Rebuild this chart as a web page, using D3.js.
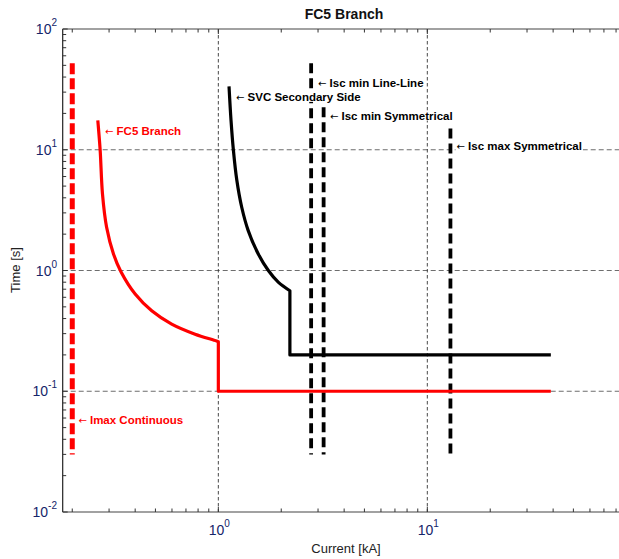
<!DOCTYPE html>
<html><head><meta charset="utf-8">
<script src="https://cdn.jsdelivr.net/npm/d3@7"></script>
<style>body{margin:0;background:#fff}svg{display:block}</style>
</head><body><div id="chart"></div>
<script>
const title = "FC5 Branch";
const xLabel = "Current [kA]";
const yLabel = "Time [s]";
const xTickExps = [0, 1];
const yTickExps = [-2, -1, 0, 1, 2];
const xGrid = [1, 10];
const yGrid = [0.1, 1, 10];

// FC5 Branch protection curve (current kA, time s): inverse-time part, then definite-time step
const fc5CurveX = [0.265, 0.272, 0.279, 0.292, 0.315, 0.342, 0.400, 0.480, 0.598, 0.774, 0.98, 1.0];
const fc5CurveT = [17.5, 9.9, 4.31, 2.28, 1.37, 0.977, 0.638, 0.464, 0.360, 0.297, 0.261, 0.257];
const fc5StepX = [1.0, 1.0, 39];
const fc5StepT = [0.257, 0.1, 0.1];
// SVC secondary side curve
const svcCurveX = [1.125, 1.15, 1.18, 1.225, 1.294, 1.39, 1.553, 1.735, 1.94, 2.20];
const svcCurveT = [33.5, 17.5, 10, 5.64, 3.34, 2.14, 1.37, 1.0, 0.797, 0.68];
const svcStepX = [2.20, 2.20, 39];
const svcStepT = [0.68, 0.2, 0.2];
// Vertical current markers
const markerNames = ["Imax Continuous", "Isc min Line-Line", "Isc min Symmetrical", "Isc max Symmetrical"];
const markerX = [0.2, 2.78, 3.19, 12.9];
const markerTop = [52, 52, 22.5, 15];
const markerBottom = [0.03, 0.03, 0.03, 0.03];
const markerColor = ["#ff0000", "#000", "#000", "#000"];
// Annotation labels
const labelText = ["FC5 Branch", "SVC Secondary Side", "Isc min Line-Line", "Isc min Symmetrical", "Isc max Symmetrical", "Imax Continuous"];
const labelX = [0.287, 1.215, 3.0, 3.42, 13.8, 0.214];
const labelT = [14.2, 27.4, 35.9, 19.2, 10.65, 0.0574];
const labelColor = ["#ff0000", "#000", "#000", "#000", "#000", "#ff0000"];

const W = 619, H = 559;
const svg = d3.select("#chart").append("svg").attr("width", W).attr("height", H);
const x = d3.scaleLog().domain([0.18, 100]).range([62.7, 636.3]);
const y = d3.scaleLog().domain([0.01, 100]).range([512, 29]);
const L = 62.7, R = 636.3, T = 29, B = 512;
const font = "Liberation Sans, Arial, sans-serif";
const tickCol = "#15256a";

// grid
svg.append("g").selectAll("line").data(yGrid).join("line")
  .attr("x1", L).attr("x2", R).attr("y1", d => y(d)).attr("y2", d => y(d))
  .attr("stroke", "#6e6e6e").attr("stroke-width", 1.2).attr("stroke-dasharray", "5,3");
svg.append("g").selectAll("line").data(xGrid).join("line")
  .attr("y1", T).attr("y2", B).attr("x1", d => x(d)).attr("x2", d => x(d))
  .attr("stroke", "#333").attr("stroke-width", 0.9).attr("stroke-dasharray", "3.5,2.5");

// axes box lines
const axisG = svg.append("g").attr("stroke", "#444").attr("stroke-width", 1.2);
axisG.append("line").attr("x1", L).attr("x2", L).attr("y1", T).attr("y2", B).attr("stroke", "#222");
axisG.append("line").attr("x1", L).attr("x2", R).attr("y1", T).attr("y2", T);
axisG.append("line").attr("x1", L).attr("x2", R).attr("y1", B).attr("y2", B);

// minor + major ticks
function logTicks(lo, hi) {
  const out = [];
  for (let e = Math.floor(Math.log10(lo)); e <= Math.ceil(Math.log10(hi)); e++) {
    for (let m = 1; m <= 9; m++) {
      const v = m * Math.pow(10, e);
      if (v >= lo * 0.999 && v <= hi * 1.001) out.push({v, major: m === 1});
    }
  }
  return out;
}
const xt = logTicks(0.18, 100), yt = logTicks(0.01, 100);
const tg = svg.append("g").attr("stroke", "#333").attr("stroke-width", 1);
xt.forEach(t => {
  const len = t.major ? 5 : 3.5;
  tg.append("line").attr("x1", x(t.v)).attr("x2", x(t.v)).attr("y1", B).attr("y2", B - len);
  tg.append("line").attr("x1", x(t.v)).attr("x2", x(t.v)).attr("y1", T).attr("y2", T + len);
});
yt.forEach(t => {
  const len = t.major ? 5 : 3.5;
  tg.append("line").attr("x1", L).attr("x2", L + len).attr("y1", y(t.v)).attr("y2", y(t.v));
});

// tick labels
xTickExps.forEach(e => {
  const t = svg.append("text").attr("x", x(Math.pow(10, e)) + 1).attr("y", 535)
    .attr("text-anchor", "middle").attr("font-family", font).attr("font-size", 14).attr("fill", tickCol);
  t.append("tspan").text("10");
  t.append("tspan").attr("dy", -8).attr("font-size", 10).text(e);
});
yTickExps.forEach(e => {
  const t = svg.append("text").attr("x", 57).attr("y", y(Math.pow(10, e)) + 5)
    .attr("text-anchor", "end").attr("font-family", font).attr("font-size", 14).attr("fill", tickCol);
  t.append("tspan").text("10");
  t.append("tspan").attr("dy", -8).attr("font-size", 10).text(e);
});

// titles
svg.append("text").attr("x", 344).attr("y", 19).attr("text-anchor", "middle")
  .attr("font-family", font).attr("font-weight", "bold").attr("font-size", 14).attr("fill", "#111").text(title);
svg.append("text").attr("x", 346).attr("y", 553).attr("text-anchor", "middle")
  .attr("font-family", font).attr("font-size", 13).attr("fill", "#222").text(xLabel);
svg.append("text").attr("transform", "translate(20,270) rotate(-90)").attr("text-anchor", "middle")
  .attr("font-family", font).attr("font-size", 13).attr("fill", "#222").text(yLabel);

// vertical markers
markerX.forEach((mx, i) => {
  svg.append("line").attr("x1", x(mx)).attr("x2", x(mx))
    .attr("y1", y(markerTop[i])).attr("y2", y(markerBottom[i]))
    .attr("stroke", markerColor[i]).attr("stroke-width", i === 0 ? 5 : 3.8)
    .attr("stroke-dasharray", i === 0 ? "11,4" : "10,5");
});

// curves: smooth inverse-time part + straight step part in one path
const smooth = d3.line().x(d => x(d[0])).y(d => y(d[1])).curve(d3.curveCatmullRom.alpha(0.5));
const straight = d3.line().x(d => x(d[0])).y(d => y(d[1]));
function curvePath(cx, ct, sx, st) {
  const a = smooth(cx.map((v, i) => [v, ct[i]]));
  const b = straight(sx.map((v, i) => [v, st[i]]));
  return a + "L" + b.slice(1);
}
svg.append("path").attr("d", curvePath(fc5CurveX, fc5CurveT, fc5StepX, fc5StepT))
  .attr("fill", "none").attr("stroke", "#ff0000").attr("stroke-width", 3.2).attr("stroke-linejoin", "round");
svg.append("path").attr("d", curvePath(svcCurveX, svcCurveT, svcStepX, svcStepT))
  .attr("fill", "none").attr("stroke", "#000").attr("stroke-width", 3.2).attr("stroke-linejoin", "round");

// labels with white backgrounds
labelText.forEach((s, i) => {
  const g = svg.append("g");
  const t = g.append("text").attr("x", x(labelX[i])).attr("y", y(labelT[i]) + 4)
    .attr("font-family", font).attr("font-size", 11.5).attr("fill", labelColor[i]);
  t.append("tspan").attr("font-family", "DejaVu Sans, sans-serif").attr("font-size", 10).text("\u2190 ");
  t.append("tspan").attr("font-weight", "bold").text(s);
  const bb = t.node().getBBox();
  g.insert("rect", "text").attr("x", bb.x - 1).attr("y", bb.y + 1)
    .attr("width", bb.width + 2).attr("height", bb.height - 2).attr("fill", "#fff");
});
</script></body></html>
